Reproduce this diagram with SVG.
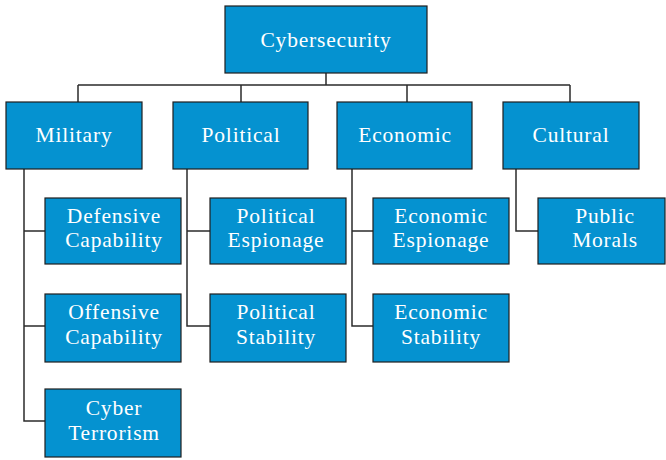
<svg xmlns="http://www.w3.org/2000/svg" width="666" height="460" viewBox="0 0 666 460">
<style>
.box{fill:#0592d0;stroke:#1f1f1f;stroke-width:1.2}
.t{font-family:"Liberation Serif","Times New Roman",serif;font-size:21.5px;letter-spacing:0.8px;fill:#ffffff;text-anchor:middle}
.c{fill:none;stroke:#2b2b2b;stroke-width:1.5}
</style>
<rect width="666" height="460" fill="#ffffff"/>
<g id="connectors">
<path class="c" d="M326 73V85M78 85H570M78 85V102M241 85V102M407 85V102M570 85V102"/>
<path class="c" d="M24 169V421H45M24 231H45M24 326H45"/>
<path class="c" d="M187 169V326H210M187 231H210"/>
<path class="c" d="M352 169V326H373M352 231H373"/>
<path class="c" d="M516 169V231H538"/>
</g>
<g id="cybersecurity"><rect class="box" x="225" y="6" width="202" height="67"/><text class="t" x="326" y="47">Cybersecurity</text></g>
<g id="military"><rect class="box" x="6" y="102" width="136" height="67"/><text class="t" x="74" y="142">Military</text></g>
<g id="political"><rect class="box" x="173" y="102" width="135" height="67"/><text class="t" x="241" y="142">Political</text></g>
<g id="economic"><rect class="box" x="337" y="102" width="135" height="67"/><text class="t" x="405" y="142">Economic</text></g>
<g id="cultural"><rect class="box" x="503" y="102" width="136" height="67"/><text class="t" x="571" y="142">Cultural</text></g>
<g id="defensive"><rect class="box" x="45" y="198" width="136" height="66"/><text class="t" x="114" y="223">Defensive</text><text class="t" x="114" y="247">Capability</text></g>
<g id="offensive"><rect class="box" x="45" y="294" width="136" height="68"/><text class="t" x="114" y="319">Offensive</text><text class="t" x="114" y="344">Capability</text></g>
<g id="cyber-terrorism"><rect class="box" x="45" y="389" width="136" height="68"/><text class="t" x="114" y="415">Cyber</text><text class="t" x="114" y="440">Terrorism</text></g>
<g id="political-espionage"><rect class="box" x="210" y="198" width="136" height="66"/><text class="t" x="276" y="223">Political</text><text class="t" x="276" y="247">Espionage</text></g>
<g id="political-stability"><rect class="box" x="210" y="294" width="136" height="68"/><text class="t" x="276" y="319">Political</text><text class="t" x="276" y="344">Stability</text></g>
<g id="economic-espionage"><rect class="box" x="373" y="198" width="136" height="66"/><text class="t" x="441" y="223">Economic</text><text class="t" x="441" y="247">Espionage</text></g>
<g id="economic-stability"><rect class="box" x="373" y="294" width="136" height="68"/><text class="t" x="441" y="319">Economic</text><text class="t" x="441" y="344">Stability</text></g>
<g id="public-morals"><rect class="box" x="538" y="198" width="127" height="66"/><text class="t" x="605" y="223">Public</text><text class="t" x="605" y="247">Morals</text></g>
</svg>
